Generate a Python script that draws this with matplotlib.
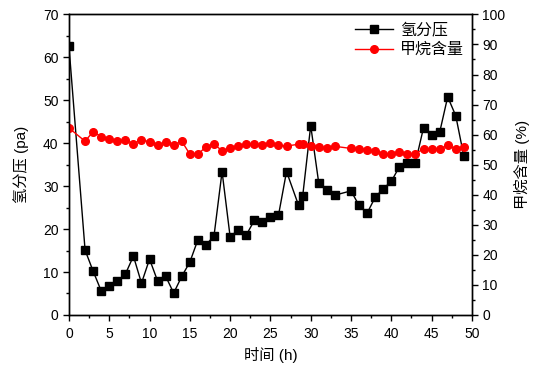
import matplotlib.pyplot as plt
from matplotlib.ticker import MultipleLocator

plt.rcParams['font.family'] = ['Liberation Sans', 'Noto Sans CJK SC']

# 氢分压 (pa)
h2_time = [0, 2, 3, 4, 5, 6, 7, 8, 9, 10, 11, 12, 13, 14, 15, 16, 17, 18, 19, 20,
           21, 22, 23, 24, 25, 26, 27, 28.5, 29, 30, 31, 32, 33, 35, 36, 37, 38, 39,
           40, 41, 42, 43, 44, 45, 46, 47, 48, 49]
h2_pressure = [62.6, 15.1, 10.2, 5.6, 6.7, 7.9, 9.5, 13.7, 7.4, 13.0, 7.9, 9.0, 5.1,
               9.0, 12.3, 17.5, 16.3, 18.4, 33.4, 18.2, 19.8, 18.6, 22.0, 21.6, 22.8,
               23.2, 33.4, 25.5, 27.6, 44.1, 30.7, 29.0, 27.9, 28.9, 25.5, 23.7, 27.4,
               29.4, 31.1, 34.5, 35.3, 35.5, 43.6, 41.8, 42.5, 50.8, 46.4, 37.0]

# 甲烷含量 (%)
ch4_time = [0, 2, 3, 4, 5, 6, 7, 8, 9, 10, 11, 12, 13, 14, 15, 16, 17, 18, 19, 20,
            21, 22, 23, 24, 25, 26, 27, 28.5, 29, 30, 31, 32, 33, 35, 36, 37, 38, 39,
            40, 41, 42, 43, 44, 45, 46, 47, 48, 49]
ch4_content = [62.2, 57.8, 61.0, 59.3, 58.6, 57.8, 58.1, 57.0, 58.3, 57.6, 56.5, 57.4,
               56.5, 57.8, 53.5, 53.5, 55.9, 56.9, 54.6, 55.4, 56.3, 56.8, 56.8, 56.5,
               57.3, 56.4, 56.2, 56.8, 56.8, 56.3, 55.9, 55.4, 56.1, 55.4, 55.3, 55.0,
               54.4, 53.6, 53.4, 54.1, 53.5, 53.7, 55.2, 55.2, 55.2, 56.4, 55.3, 56.0]

fig = plt.figure(figsize=(5.43, 3.79), dpi=100)
ax = fig.add_axes([0.127, 0.169, 0.742, 0.793])
ax2 = ax.twinx()

l1, = ax.plot(h2_time, h2_pressure, color='black', marker='s', markersize=5.5,
              linewidth=1, label='氢分压')
l2, = ax2.plot(ch4_time, ch4_content, color='red', marker='o', markersize=5.5,
               linewidth=1, label='甲烷含量')

ax.set_xlim(0, 50)
ax.set_ylim(0, 70)
ax2.set_ylim(0, 100)

ax.xaxis.set_major_locator(MultipleLocator(5))
ax.xaxis.set_minor_locator(MultipleLocator(2.5))
ax.yaxis.set_major_locator(MultipleLocator(10))
ax.yaxis.set_minor_locator(MultipleLocator(5))
ax2.yaxis.set_major_locator(MultipleLocator(10))
ax2.yaxis.set_minor_locator(MultipleLocator(5))

for a in (ax, ax2):
    a.tick_params(which='major', length=4, width=1, labelsize=10)
    a.tick_params(which='minor', length=2.5, width=1)
    for s in a.spines.values():
        s.set_linewidth(1)
ax.tick_params(axis='x', pad=5)

ax.set_xlabel('时间 (h)', fontsize=11)
ax.set_ylabel('氢分压 (pa)', fontsize=11, labelpad=10)
ax2.set_ylabel('甲烷含量 (%)', fontsize=11, labelpad=6)

ax.legend(handles=[l1, l2], loc='upper right', frameon=False, fontsize=11.5,
          handlelength=2.4, handletextpad=0.4, borderaxespad=0.1,
          labelspacing=0.3)

fig.savefig('out.png', dpi=100)
